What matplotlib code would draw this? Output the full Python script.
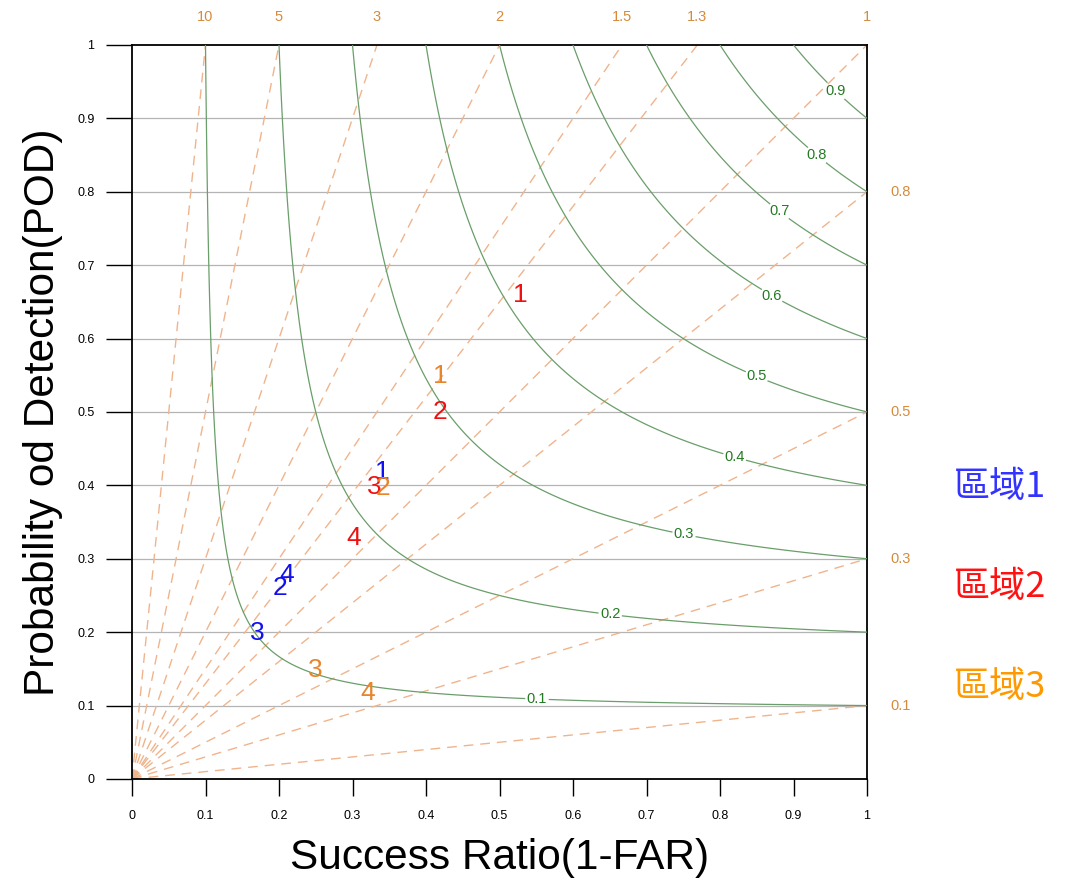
import numpy as np
import matplotlib.pyplot as plt
from matplotlib import font_manager

# forecast scores per region (success ratio, POD), label = case number
cases = ['1', '2', '3', '4']
sr_region1 = [0.341, 0.201, 0.171, 0.211]
pod_region1 = [0.418, 0.260, 0.199, 0.278]
sr_region2 = [0.528, 0.419, 0.329, 0.301]
pod_region2 = [0.659, 0.500, 0.398, 0.328]
sr_region3 = [0.420, 0.342, 0.250, 0.320]
pod_region3 = [0.549, 0.396, 0.148, 0.117]
region_names = ['區域1', '區域2', '區域3']

bias_top = [10, 5, 3, 2, 1.5, 1.3, 1]
bias_right = [0.8, 0.5, 0.3, 0.1]
bias_top_labels = ['10', '5', '3', '2', '1.5', '1.3', '1']
bias_right_labels = ['0.8', '0.5', '0.3', '0.1']
csi_levels = [0.1, 0.2, 0.3, 0.4, 0.5, 0.6, 0.7, 0.8, 0.9]
csi_label_pos = [(0.551, 0.110), (0.650, 0.219), (0.750, 0.328), (0.820, 0.439),
                 (0.850, 0.549), (0.871, 0.659), (0.879, 0.771), (0.932, 0.850),
                 (0.961, 0.941)]

names = {f.name for f in font_manager.fontManager.ttflist}
narrow = 'Liberation Sans Narrow' if 'Liberation Sans Narrow' in names else 'Liberation Sans'
plt.rcParams['font.family'] = ['Liberation Sans', 'DejaVu Sans']

fig = plt.figure(figsize=(10.68, 8.88), dpi=100)
ax = fig.add_axes([0.1236, 0.1228, 0.6882, 0.8266])

# horizontal grid
for y in np.arange(0.1, 1.0, 0.1):
    ax.axhline(y, color='#b4b4b4', lw=0.9, zorder=1)

# bias lines
bias_col = '#f0b48c'
for b in bias_top:
    ax.plot([0, 1 / b], [0, 1], ls=(0, (7, 5)), color=bias_col, lw=1.0, zorder=2)
for b in bias_right:
    ax.plot([0, 1], [0, b], ls=(0, (7, 5)), color=bias_col, lw=1.0, zorder=2)

# CSI curves
g = np.linspace(0.001, 1, 600)
SR, POD = np.meshgrid(g, g)
CSI = 1.0 / (1.0 / SR + 1.0 / POD - 1.0)
cs = ax.contour(SR, POD, CSI, levels=csi_levels, colors='#6a9e6a', linewidths=0.9, zorder=3)
clabels = ax.clabel(cs, fmt='%.1f', manual=csi_label_pos, inline=True, inline_spacing=1,
                    fontsize=10.5, colors='#237a23')
for t in clabels:
    t.set_rotation(0)

label_col = '#d68a3c'
for b, t in zip(bias_top, bias_top_labels):
    ax.text(1 / b, 1.038, t, color=label_col, fontsize=10.5, ha='center', va='center',
            clip_on=False)
for b, t in zip(bias_right, bias_right_labels):
    ax.text(1.046, b, t, color=label_col, fontsize=10.5, ha='center', va='center',
            clip_on=False)

# case numbers
colors = ['#1010f0', '#ee1111', '#e8842a']
for sr, pod, c in [(sr_region1, pod_region1, colors[0]),
                   (sr_region2, pod_region2, colors[1]),
                   (sr_region3, pod_region3, colors[2])]:
    for x, y, t in zip(sr, pod, cases):
        ax.text(x, y, t, color=c, fontsize=19, ha='center', va='center', zorder=5)

# region legend
legend_cols = ['#3333ff', '#ff1111', '#ff9900']
for i, (name, c) in enumerate(zip(region_names, legend_cols)):
    fig.text(0.936, 1 - (487 + 100 * i) / 888, name, color=c, fontsize=26,
             ha='center', va='center', family=['Noto Sans CJK TC', 'DejaVu Sans'])

ax.set_xlim(0, 1)
ax.set_ylim(0, 1)
ticks = np.round(np.arange(0, 1.01, 0.1), 1)
ticklabels = ['0'] + ['%.1f' % t for t in ticks[1:-1]] + ['1']
ax.set_xticks(ticks)
ax.set_xticklabels(ticklabels)
ax.set_yticks(ticks)
ax.set_yticklabels(ticklabels)
ax.tick_params(axis='x', length=12, width=1, labelsize=9, pad=10)
ax.tick_params(axis='y', length=19, width=1, labelsize=9, pad=8)
for s in ax.spines.values():
    s.set_linewidth(1.3)

ax.set_xlabel('Success Ratio(1-FAR)', fontsize=30.5, family=narrow, labelpad=12)
ax.set_ylabel('Probability od Detection(POD)', fontsize=30.5, family=narrow, labelpad=10)

fig.savefig('out.png', dpi=100)
